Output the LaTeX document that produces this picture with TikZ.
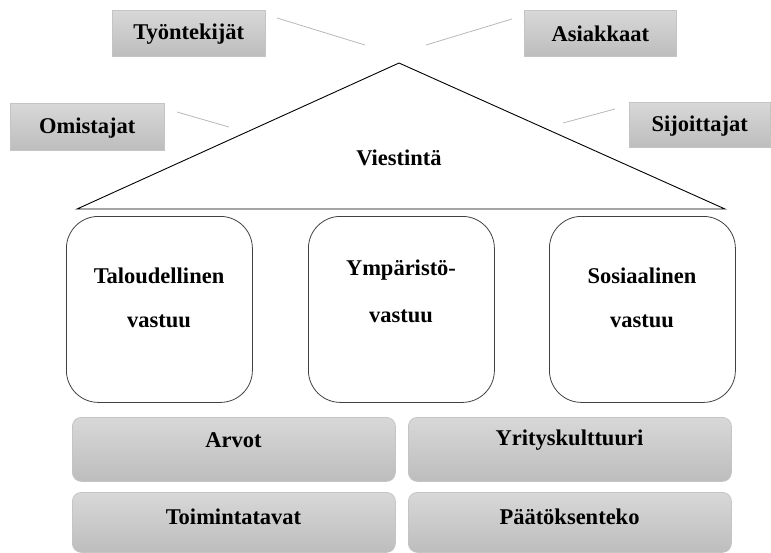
\documentclass[tikz,border=0pt]{standalone}
\usepackage{fontspec}
\setmainfont{Liberation Serif}[BoldFont={Liberation Serif Bold}]
\definecolor{boxtop}{HTML}{D8D8D8}
\definecolor{boxbot}{HTML}{BDBDBD}
\definecolor{boxline}{HTML}{C4C4C4}
\definecolor{rayline}{HTML}{B8B8B8}
\begin{document}
\begin{tikzpicture}[x=1pt,y=-1pt,
  lbl/.style={font=\fontsize{22.5}{26}\selectfont\bfseries},
  twoline/.style={align=center, text width=180pt, font=\fontsize{22.5}{#1}\selectfont\bfseries},
  stakebox/.style={draw=boxline, line width=0.6pt, top color=boxtop, bottom color=boxbot,
    inner sep=0pt, anchor=north west},
  basebox/.style={draw=boxline, line width=0.8pt, top color=boxtop, bottom color=boxbot,
    rounded corners=9pt, inner sep=0pt, anchor=north west},
  pillar/.style={draw=black!75, line width=0.8pt, rounded corners=32pt, inner sep=0pt,
    anchor=north west, minimum width=186pt, minimum height=186pt},
  ray/.style={draw=rayline, line width=0.8pt}]
\useasboundingbox (0,0) rectangle (771,552);

% stakeholder boxes
\node[stakebox, minimum width=153pt, minimum height=46pt] (tyo) at (112,10) {};
\node[lbl] at ([yshift=-1pt]tyo.center) {Työntekijät};
\node[stakebox, minimum width=152pt, minimum height=46pt] (asi) at (524,10) {};
\node[lbl] at ([yshift=-1pt]asi.center) {Asiakkaat};
\node[stakebox, minimum width=154pt, minimum height=47pt] (omi) at (10,103) {};
\node[lbl] at ([yshift=-1pt]omi.center) {Omistajat};
\node[stakebox, minimum width=141pt, minimum height=45pt] (sij) at (629,102) {};
\node[lbl] at ([yshift=-1pt]sij.center) {Sijoittajat};

% short rays toward the roof
\coordinate (r1a) at (277,18);  \coordinate (r1b) at (365,45);
\coordinate (r2a) at (512,19);  \coordinate (r2b) at (426,45);
\coordinate (r3a) at (177,112); \coordinate (r3b) at (229,127);
\coordinate (r4a) at (615,109); \coordinate (r4b) at (563,123);
\draw[ray] (r1a) -- (r1b);
\draw[ray] (r2a) -- (r2b);
\draw[ray] (r3a) -- (r3b);
\draw[ray] (r4a) -- (r4b);

% roof
\coordinate (apex) at (399,63);
\coordinate (eaveL) at (77,209);
\coordinate (eaveR) at (725,209);
\draw[line width=0.9pt, line join=miter] (eaveL) -- (apex) -- (eaveR) -- cycle;
\node[lbl] (vie) at (399,158) {Viestintä};

% pillars
\node[pillar] (p1) at (66,216) {};
\node[pillar] (p2) at (308,216) {};
\node[pillar] (p3) at (549,216) {};
\node[twoline=44] at (159,298) {Taloudellinen\\vastuu};
\node[twoline=47] at (401,291) {Ympäristö-\\vastuu};
\node[twoline=44] at (642,298) {Sosiaalinen\\vastuu};

% foundation
\node[basebox, minimum width=323pt, minimum height=64pt] (arv) at (72,417) {};
\node[lbl] at (233.5,440) {Arvot};
\node[basebox, minimum width=323pt, minimum height=64pt] (yri) at (408,417) {};
\node[lbl] at (569.5,440) {Yrityskulttuuri};
\node[basebox, minimum width=323pt, minimum height=60pt] (toi) at (72,492) {};
\node[lbl] at (233.5,517) {Toimintatavat};
\node[basebox, minimum width=323pt, minimum height=60pt] (paa) at (408,492) {};
\node[lbl] at (569.5,517) {Päätöksenteko};
\end{tikzpicture}
\end{document}
